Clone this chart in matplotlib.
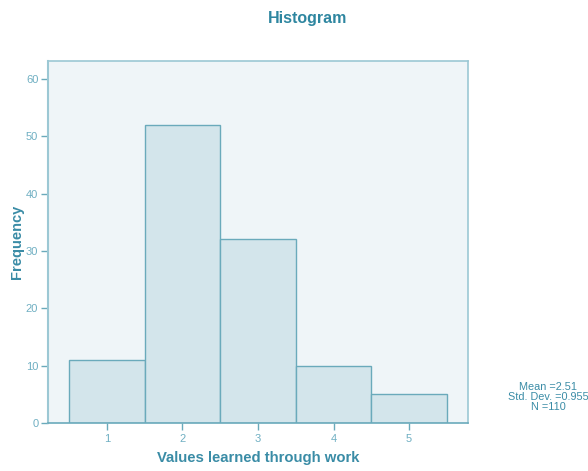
import matplotlib
matplotlib.use("Agg")
import matplotlib.pyplot as plt

plt.rcParams['font.family'] = ['Liberation Sans', 'DejaVu Sans']

categories = [1, 2, 3, 4, 5]
frequencies = [11, 52, 32, 10, 5]
y_ticks = [0, 10, 20, 30, 40, 50, 60]
stats_text = "Mean =2.51\nStd. Dev. =0.955\nN =110"

title_color = '#2E86A0'
label_color = '#3A8CA6'
tick_label_color = '#6FAFC2'
frame_color = '#9CC8D4'
edge_color = '#6AAABB'
bar_color = '#D3E5EB'
bg_color = '#EFF5F8'

fig = plt.figure(figsize=(5.88, 4.71), dpi=100)
ax = fig.add_axes([48/588, 1-423/471, 420/588, 362/471])
ax.set_facecolor(bg_color)

ax.bar(categories, frequencies, width=1.0, color=bar_color, edgecolor=edge_color, linewidth=1.0, zorder=2)

ax.set_xlim(0.22, 5.78)
ax.set_ylim(0, 63.1)
ax.set_xticks(categories)
ax.set_xticklabels([str(c) for c in categories])
ax.set_yticks(y_ticks)
ax.set_yticklabels([str(v) for v in y_ticks])

for s in ['top', 'right']:
    ax.spines[s].set_color(frame_color)
    ax.spines[s].set_linewidth(1.2)
ax.spines['left'].set_color(frame_color)
ax.spines['left'].set_linewidth(1.5)
ax.spines['bottom'].set_color(edge_color)
ax.spines['bottom'].set_linewidth(1.2)

ax.tick_params(axis='both', colors=edge_color, labelcolor=tick_label_color, labelsize=8, length=5, width=1.0, direction='out')
ax.tick_params(axis='x', pad=3)
ax.tick_params(axis='y', pad=2)

ax.set_xlabel('Values learned through work', fontsize=10.7, fontweight='bold', color=label_color, labelpad=5)
ax.set_ylabel('Frequency', fontsize=10.5, fontweight='bold', color=label_color, va='center')
ax.yaxis.set_label_coords((17 - 48) / 420, 0.5)

fig.text(308/588, 1-18/471, 'Histogram', ha='center', va='center', fontsize=11.5, fontweight='bold', color=title_color)
fig.text(548/588, 1-397/471, stats_text, ha='center', va='center', fontsize=7.8, color=label_color, linespacing=0.95)

fig.savefig('out.png', dpi=100, facecolor='white')
